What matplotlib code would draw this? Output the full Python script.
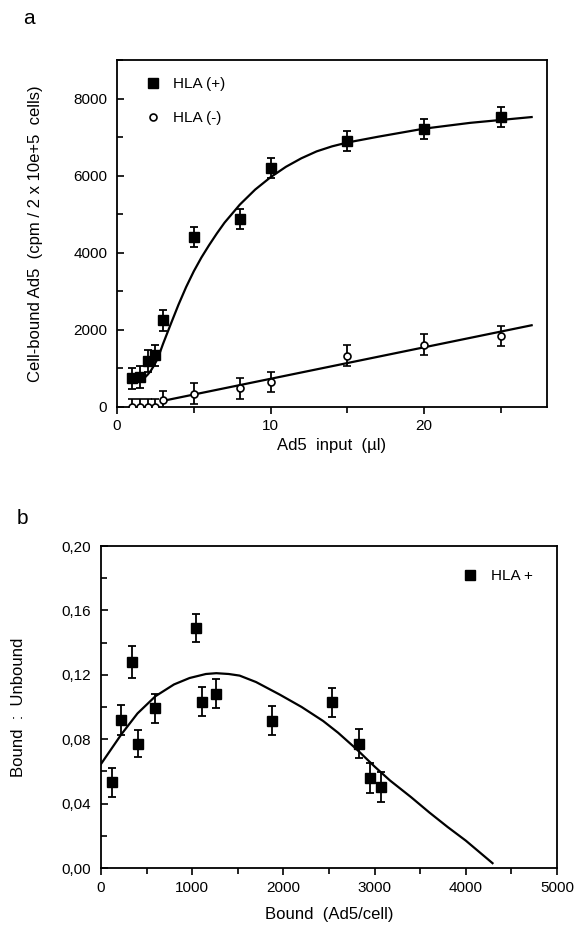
import matplotlib
matplotlib.use("Agg")
import matplotlib.pyplot as plt
from matplotlib.ticker import MultipleLocator, FuncFormatter
from matplotlib.lines import Line2D

plt.rcParams['font.family'] = ['Liberation Sans', 'DejaVu Sans']

# ---- Panel a data ----
a_pos_x = [1, 1.5, 2, 2.5, 3, 5, 8, 10, 15, 20, 25]
a_pos_y = [740, 780, 1200, 1340, 2250, 4420, 4870, 6200, 6910, 7220, 7520]
a_pos_err = [280, 280, 280, 280, 270, 260, 260, 260, 260, 260, 250]

a_neg_x = [1, 1.5, 2, 2.5, 3, 5, 8, 10, 15, 20, 25]
a_neg_y = [0, 0, 0, 0, 180, 350, 480, 650, 1330, 1620, 1830]
a_neg_err = [220, 220, 220, 220, 230, 260, 260, 260, 270, 270, 260]

a_fit_pos_x = [1.6, 1.8, 2.0, 2.2, 2.4, 2.6, 2.8, 3.0, 3.5, 4.0, 4.5, 5.0, 5.5,
               6.0, 6.5, 7.0, 8.0, 9.0, 10.0, 11.0, 12.0, 13.0, 14.0, 15.0,
               17.0, 20.0, 23.0, 27.0]
a_fit_pos_y = [700, 760, 840, 940, 1070, 1220, 1420, 1640, 2150, 2650, 3110,
               3520, 3880, 4200, 4500, 4780, 5250, 5640, 5960, 6230, 6450, 6630,
               6760, 6860, 7010, 7220, 7370, 7520]
a_fit_neg_x = [3, 27]
a_fit_neg_y = [160, 2120]

# ---- Panel b data ----
b_x = [121, 223, 344, 403, 597, 1037, 1110, 1264, 1879, 2531, 2828, 2949, 3073]
b_y = [0.0533, 0.0919, 0.128, 0.0773, 0.0993, 0.149, 0.1032, 0.1083, 0.0915,
       0.1028, 0.0773, 0.056, 0.0503]
b_err = [0.009, 0.0095, 0.010, 0.0085, 0.009, 0.0088, 0.009, 0.009, 0.009,
         0.0092, 0.009, 0.0095, 0.0095]

b_fit_x = [0, 223, 400, 597, 800, 971, 1150, 1264, 1400, 1520, 1700, 1960, 2200,
           2436, 2600, 2802, 3000, 3168, 3400, 3600, 3800, 4000, 4293]
b_fit_y = [0.0646, 0.083, 0.096, 0.1067, 0.114, 0.118, 0.1205, 0.121, 0.1205,
           0.1195, 0.1155, 0.1077, 0.100, 0.0913, 0.0840, 0.0738, 0.063, 0.0544,
           0.0440, 0.0345, 0.0255, 0.0170, 0.0030]

fig = plt.figure(figsize=(5.78, 9.33), dpi=100)

W, H = 578.0, 933.0
def axrect(l, t, r, b):
    return [l / W, 1 - b / H, (r - l) / W, (b - t) / H]

EB = dict(capsize=3.2, elinewidth=1.3, capthick=1.3, zorder=3)

# ---------- Panel a ----------
ax1 = fig.add_axes(axrect(117, 60, 547, 407))
ax1.errorbar(a_pos_x, a_pos_y, yerr=a_pos_err, fmt='s', color='black', ms=6.5, **EB)
ax1.errorbar(a_neg_x, a_neg_y, yerr=a_neg_err, fmt='o', color='black', mfc='white',
             ms=5, mew=1.2, **EB)
ax1.plot(a_fit_pos_x, a_fit_pos_y, color='black', lw=1.6, zorder=2)
ax1.plot(a_fit_neg_x, a_fit_neg_y, color='black', lw=1.6, zorder=2)
ax1.set_xlim(0, 28)
ax1.set_ylim(0, 9000)
ax1.xaxis.set_major_locator(MultipleLocator(10))
ax1.xaxis.set_minor_locator(MultipleLocator(5))
ax1.yaxis.set_major_locator(MultipleLocator(2000))
ax1.yaxis.set_minor_locator(MultipleLocator(1000))
ax1.tick_params(axis='x', which='both', direction='out', labelsize=11, pad=4)
ax1.tick_params(axis='y', which='both', direction='in', labelsize=11, pad=7)
ax1.tick_params(which='major', length=5, width=1.2)
ax1.tick_params(which='minor', length=4, width=1.2)
ax1.set_xlabel('Ad5  input  (µl)', fontsize=12, labelpad=3)
ax1.set_ylabel('Cell-bound Ad5  (cpm / 2 x 10e+5  cells)', fontsize=12, labelpad=22)
for s in ax1.spines.values():
    s.set_linewidth(1.3)
h1 = [Line2D([], [], ls='none', marker='s', color='black', ms=6.5),
      Line2D([], [], ls='none', marker='o', color='black', mfc='white', ms=5, mew=1.2)]
ax1.legend(h1, ['HLA (+)', 'HLA (-)'], loc='upper left', bbox_to_anchor=(0.03, 0.99),
           frameon=False, fontsize=11, handletextpad=0.7, labelspacing=1.3,
           handlelength=1.2)
fig.text(23 / W, 1 - 18 / H, 'a', fontsize=15, ha='left', va='center')

# ---------- Panel b ----------
ax2 = fig.add_axes(axrect(101, 546, 557, 868))
ax2.errorbar(b_x, b_y, yerr=b_err, fmt='s', color='black', ms=6.5, **EB)
ax2.plot(b_fit_x, b_fit_y, color='black', lw=1.6, zorder=2)
ax2.set_xlim(0, 5000)
ax2.set_ylim(0, 0.20)
ax2.xaxis.set_major_locator(MultipleLocator(1000))
ax2.xaxis.set_minor_locator(MultipleLocator(500))
ax2.yaxis.set_major_locator(MultipleLocator(0.04))
ax2.yaxis.set_minor_locator(MultipleLocator(0.02))
ax2.yaxis.set_major_formatter(FuncFormatter(lambda v, p: ('%.2f' % v).replace('.', ',')))
ax2.tick_params(axis='x', which='both', direction='out', labelsize=11, pad=4)
ax2.tick_params(axis='y', which='both', direction='in', labelsize=11, pad=7)
ax2.tick_params(which='major', length=5, width=1.2)
ax2.tick_params(which='minor', length=4, width=1.2)
ax2.set_xlabel('Bound  (Ad5/cell)', fontsize=12, labelpad=9)
ax2.set_ylabel('Bound  :  Unbound', fontsize=12, labelpad=26)
for s in ax2.spines.values():
    s.set_linewidth(1.3)
h2 = [Line2D([], [], ls='none', marker='s', color='black', ms=6.5)]
ax2.legend(h2, ['HLA +'], loc='upper right', bbox_to_anchor=(0.978, 0.97),
           frameon=False, fontsize=11, handletextpad=0.8, handlelength=1.2)
fig.text(17 / W, 1 - 519 / H, 'b', fontsize=15, ha='left', va='center')

fig.savefig('out.png', dpi=100)
